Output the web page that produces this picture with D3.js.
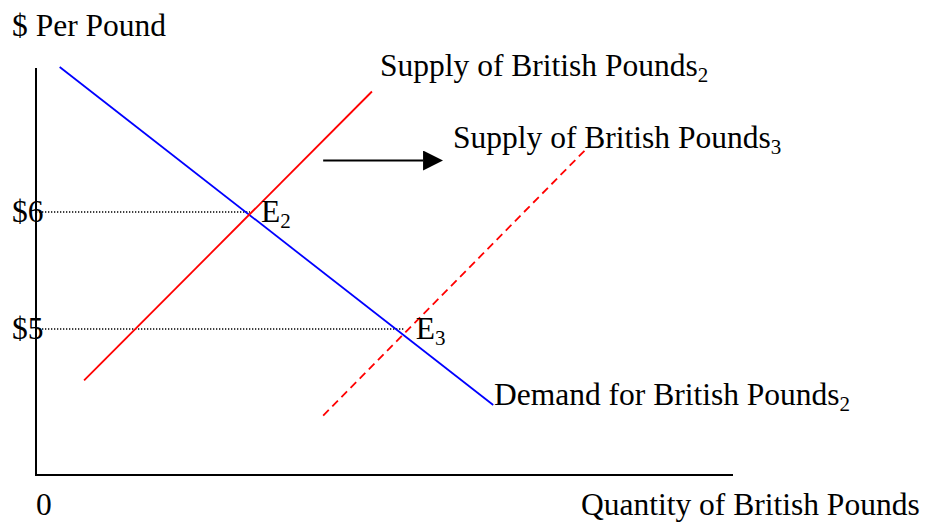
<!DOCTYPE html>
<html lang="en">
<head>
<meta charset="utf-8">
<script src="https://d3js.org/d3.v7.min.js"></script>
<style>
  body { margin: 0; background: white; }
  text { font-family: "Liberation Serif", "Times New Roman", serif; fill: black; }
</style>
</head>
<body>
<script>
// quantity on 0..100 scale, price in dollars
var demand2 = [{q: 3.4, p: 7.24}, {q: 65.6, p: 4.35}];
var supply2 = [{q: 6.9, p: 4.56}, {q: 48.2, p: 7.03}];
var supply3 = [{q: 41.2, p: 4.26}, {q: 78.8, p: 6.53}];
var equilibria = [{name: "E", sub: "2", q: 30.7, p: 6}, {name: "E", sub: "3", q: 52.9, p: 5}];
var priceTicks = [6, 5];
var shiftArrow = [{q: 41.2, p: 6.44}, {q: 58.4, p: 6.44}];

var width = 927, height = 523;
var fs = 31.5;

var svg = d3.select("body").append("svg")
  .attr("width", width)
  .attr("height", height);

var x = d3.scaleLinear().domain([0, 100]).range([36, 733]);
var y = d3.scaleLinear().domain([5, 6]).range([329, 212]);
var pMin = y.invert(475), pMax = y.invert(68);

var line = d3.line().x(d => x(d.q)).y(d => y(d.p));

svg.append("defs").append("marker")
  .attr("id", "head")
  .attr("viewBox", "0 0 10 10")
  .attr("refX", 0).attr("refY", 5)
  .attr("markerWidth", 20).attr("markerHeight", 20)
  .attr("markerUnits", "userSpaceOnUse")
  .attr("orient", "auto")
  .append("path").attr("d", "M0,0 L10,5 L0,10 Z").attr("fill", "black");

// axes
svg.append("path")
  .attr("d", line([{q: 0, p: pMax}, {q: 0, p: pMin}, {q: 100, p: pMin}]))
  .attr("fill", "none").attr("stroke", "black").attr("stroke-width", 2);

// dotted guides
svg.selectAll(".guide").data(equilibria).enter().append("line")
  .attr("x1", x(0)).attr("x2", d => x(d.q))
  .attr("y1", d => y(d.p)).attr("y2", d => y(d.p))
  .attr("stroke", "black").attr("stroke-width", 1.4)
  .attr("stroke-dasharray", "1.3,1.7");

// curves
svg.append("path").attr("d", line(demand2))
  .attr("stroke", "blue").attr("stroke-width", 1.8).attr("fill", "none");
svg.append("path").attr("d", line(supply2))
  .attr("stroke", "red").attr("stroke-width", 1.8).attr("fill", "none");
svg.append("path").attr("d", line(supply3))
  .attr("stroke", "red").attr("stroke-width", 1.8).attr("fill", "none")
  .attr("stroke-dasharray", "8,5");

// shift arrow
svg.append("path")
  .attr("d", line([shiftArrow[0], {q: shiftArrow[1].q - 20 / (x(1) - x(0)), p: shiftArrow[1].p}]))
  .attr("stroke", "black").attr("stroke-width", 1.8)
  .attr("marker-end", "url(#head)");

function label(tx, ty, main, sub) {
  var t = svg.append("text").attr("x", tx).attr("y", ty).style("font-size", fs + "px").text(main);
  if (sub) {
    t.append("tspan").attr("dy", 6).style("font-size", Math.round(fs * 0.66) + "px").text(sub);
  }
  return t;
}

// price ticks
priceTicks.forEach(function (p) {
  label(12, y(p) + 10, "$" + p);
});

equilibria.forEach(function (d) {
  label(x(d.q) + 11, y(d.p) + 10, d.name, d.sub);
});

label(12, 36, "$ Per Pound");
label(36, 515, "0");
label(581, 515, "Quantity of British Pounds");
label(380, 76, "Supply of British Pounds", "2");
label(453, 148, "Supply of British Pounds", "3");
label(494, 405, "Demand for British Pounds", "2");
</script>
</body>
</html>
